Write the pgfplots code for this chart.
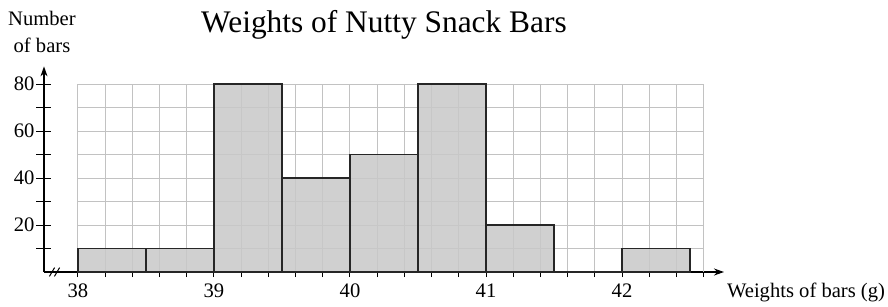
\documentclass[border=0pt]{standalone}
\usepackage{pgfplots}
\pgfplotsset{compat=1.18}
\usetikzlibrary{arrows.meta}
\usepackage{fontspec}
\setmainfont{Liberation Serif}
\definecolor{gridc}{gray}{0.76}
\definecolor{barc}{gray}{0.785}
\definecolor{edgec}{gray}{0.15}
\begin{document}
\begin{tikzpicture}
\begin{axis}[
  scale only axis,
  x=68pt, y=1.175pt,
  xmin=37.75, xmax=42.75, ymin=0, ymax=87.5,
  axis x line=bottom, axis y line=left,
  axis line style={line width=0.6pt, -{Stealth[length=5pt,width=3.5pt]}},
  /pgf/number format/assume math mode=true,
  xtick=\empty,
  ytick={10,20,30,40,50,60,70,80},
  yticklabels={,20,,40,,60,,80},
  major tick length=7.5pt,
  tick align=center,
  tick style={black, line width=0.5pt},
  extra x ticks={38,38.2,38.4,38.6,38.8,39,39.2,39.4,39.6,39.8,40,40.2,40.4,40.6,40.8,41,41.2,41.4,41.6,41.8,42,42.2,42.4,42.6},
  extra x tick labels={38,,,,,39,,,,,40,,,,,41,,,,,42,,,},
  extra x tick style={major tick length=2.5pt, tick align=outside},
  ticklabel style={font=\fontsize{10.3}{12}\selectfont},
  yticklabel style={xshift=2.5pt},
  clip=false,
]
\pgfplotsinvokeforeach{38,38.2,38.4,38.6,38.8,39,39.2,39.4,39.6,39.8,40,40.2,40.4,40.6,40.8,41,41.2,41.4,41.6,41.8,42,42.2,42.4,42.6}{
  \draw[gridc, line width=0.5pt] (axis cs:#1,0) -- (axis cs:#1,80);
}
\pgfplotsinvokeforeach{10,20,30,40,50,60,70,80}{
  \draw[gridc, line width=0.5pt] (axis cs:38,#1) -- (axis cs:42.6,#1);
}
\addplot[ybar interval, fill=barc, fill opacity=0.85, draw=edgec, line width=0.75pt]
  coordinates {(38,10) (38.5,10) (39,80) (39.5,40) (40,50) (40.5,80) (41,20) (41.5,0) (42,10) (42.5,10)};
\draw[line width=0.5pt] (axis cs:37.75,0) ++(4pt,0pt) ++(-1.3pt,-2.2pt) -- ++(2.6pt,4.4pt);
\draw[line width=0.5pt] (axis cs:37.75,0) ++(6.5pt,0pt) ++(-1.3pt,-2.2pt) -- ++(2.6pt,4.4pt);
\node[font=\fontsize{15.7}{18}\selectfont, anchor=base] at (axis cs:40.25,0) [yshift=120pt] {Weights of Nutty Snack Bars};
\node[font=\fontsize{10.3}{13.5}\selectfont, align=center] at (axis cs:37.75,0) [xshift=-1pt, yshift=120pt] {Number\\of bars};
\node[font=\fontsize{10.3}{12}\selectfont, anchor=west] at (axis cs:37.75,0) [xshift=338pt, yshift=-10pt] {Weights of bars (g)};
\end{axis}
\pgfresetboundingbox
\path (-22pt,-17pt) rectangle (422pt,136pt);
\end{tikzpicture}
\end{document}
